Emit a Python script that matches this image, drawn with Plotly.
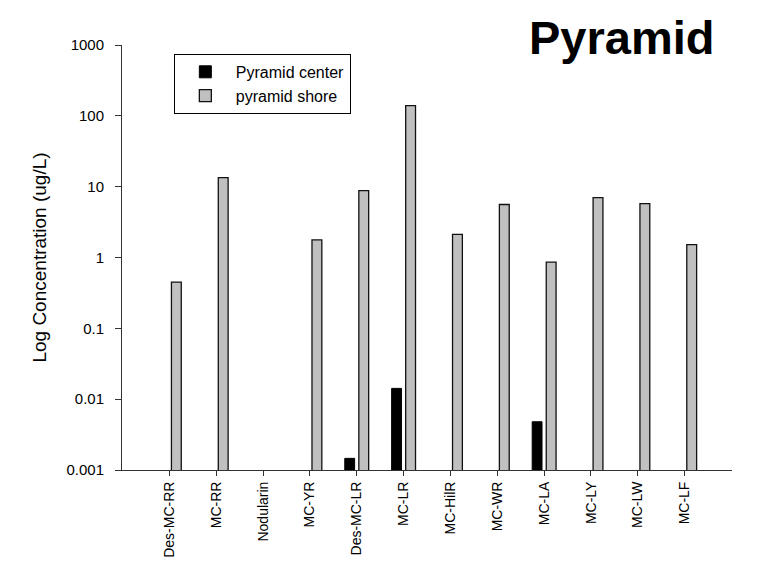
import plotly.graph_objects as go

categories = ["Des-MC-RR", "MC-RR", "Nodularin", "MC-YR", "Des-MC-LR", "MC-LR",
              "MC-HilR", "MC-WR", "MC-LA", "MC-LY", "MC-LW", "MC-LF"]
center_vals = [None, None, None, None, 0.00146, 0.0142, None, None, 0.0048, None, None, None]
shore_vals = [0.45, 13.4, None, 1.77, 8.8, 139, 2.12, 5.6, 0.86, 7.0, 5.75, 1.52]
ytick_vals = [0.001, 0.01, 0.1, 1, 10, 100, 1000]
ytick_text = ["0.001", "0.01", "0.1", "1", "10", "100", "1000"]

FONT = "Arial, Liberation Sans, sans-serif"

fig = go.Figure()
fig.add_trace(go.Bar(x=categories, y=center_vals, name="Pyramid center",
                     marker=dict(color="black", line=dict(color="black", width=1))))
fig.add_trace(go.Bar(x=categories, y=shore_vals, name="pyramid shore",
                     marker=dict(color="#c0c0c0", line=dict(color="#111111", width=1.3))))

fig.update_layout(
    width=764, height=581,
    margin=dict(l=122, r=32, t=45, b=111),
    paper_bgcolor="white", plot_bgcolor="white",
    barmode="group", bargap=0.4, bargroupgap=0.3,
    font=dict(family=FONT, size=14, color="black"),
    showlegend=True,
    legend=dict(x=0.085, y=0.979, xanchor="left", yanchor="top",
                bordercolor="black", borderwidth=1, bgcolor="white",
                font=dict(family=FONT, size=16), tracegroupgap=0,
                itemwidth=51, entrywidth=155),
    xaxis=dict(type="category", range=[-1.01, 12.01], showline=True, linecolor="#333333",
               linewidth=1, ticks="outside", ticklen=5, tickcolor="#333333",
               tickangle=-90, tickfont=dict(family=FONT, size=14),
               showgrid=False, zeroline=False),
    yaxis=dict(type="log", range=[-3, 3], showline=True, linecolor="#333333", linewidth=1,
               ticks="outside", ticklen=6, tickcolor="#333333",
               tickvals=ytick_vals, ticktext=ytick_text, ticklabelstandoff=8,
               tickfont=dict(family=FONT, size=15),
               showgrid=False, zeroline=False,
               title=dict(text="Log Concentration (ug/L)", font=dict(family=FONT, size=19),
                          standoff=14)),
    annotations=[dict(text="<b>Pyramid</b>", showarrow=False,
                      xref="paper", yref="paper",
                      x=(621 - 122) / 610, y=(470 - 37) / 425,
                      xanchor="center", yanchor="middle",
                      font=dict(family=FONT, size=47, color="black"))],
)

fig.write_html("out.html")
